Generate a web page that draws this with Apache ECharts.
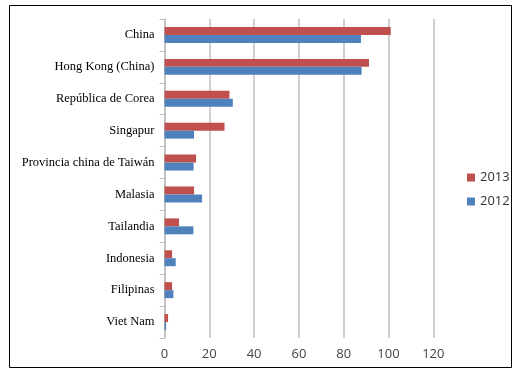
<!DOCTYPE html>
<html><head><meta charset="utf-8">
<script src="https://cdn.jsdelivr.net/npm/echarts@6/dist/echarts.min.js"></script>
<style>html,body{margin:0;padding:0;background:#fff}#c{width:521px;height:373px}</style>
</head><body><div id="c"></div>
<script>
const categories = ['China','Hong Kong (China)','República de Corea','Singapur','Provincia china de Taiwán','Malasia','Tailandia','Indonesia','Filipinas','Viet Nam'];
const values2013 = [101, 91.3, 29, 26.8, 14.1, 13.2, 6.5, 3.4, 3.4, 1.6];
const values2012 = [87.7, 88, 30.5, 13.2, 13, 16.8, 12.9, 5, 4, 0.7];
const xTicks = [0, 20, 40, 60, 80, 100, 120];

const chart = echarts.init(document.getElementById('c'));
chart.setOption({
  animation: false,
  graphic: [{type:'rect', shape:{x:9.5,y:5.5,width:502,height:362}, style:{fill:null, stroke:'#000', lineWidth:1}}],
  legend: {
    orient: 'vertical', left: 462, top: 166, itemWidth: 8, itemHeight: 8, itemGap: 11,
    data: ['2013','2012'],
    textStyle: {fontFamily: 'Open Sans', fontSize: 13, color: '#333'},
    icon: 'rect'
  },
  grid: {left: 164.5, right: 87.7, top: 19, bottom: 35, containLabel: false},
  xAxis: {
    type: 'value', min: xTicks[0], max: xTicks[xTicks.length-1], interval: 20,
    axisLine: {show: false}, axisTick: {show: false},
    splitLine: {show: true, lineStyle: {color: '#bfbfbf', width: 1.5}},
    axisLabel: {fontFamily: 'Open Sans', fontSize: 13, color: '#444', margin: 10}
  },
  yAxis: {
    type: 'category', data: categories, inverse: true,
    axisLine: {show: true, lineStyle: {color: '#bfbfbf', width: 1.5}},
    axisTick: {show: true, length: 5, lineStyle: {color: '#bfbfbf'}},
    axisLabel: {fontFamily: 'Liberation Serif', fontSize: 12.5, color: '#000', margin: 10}
  },
  series: [
    {name: '2013', type: 'bar', data: values2013, itemStyle: {color: '#C0504D'}, barGap: '0%', barCategoryGap: '50%'},
    {name: '2012', type: 'bar', data: values2012, itemStyle: {color: '#4F81BD'}, barGap: '0%', barCategoryGap: '50%'}
  ]
});
</script></body></html>
